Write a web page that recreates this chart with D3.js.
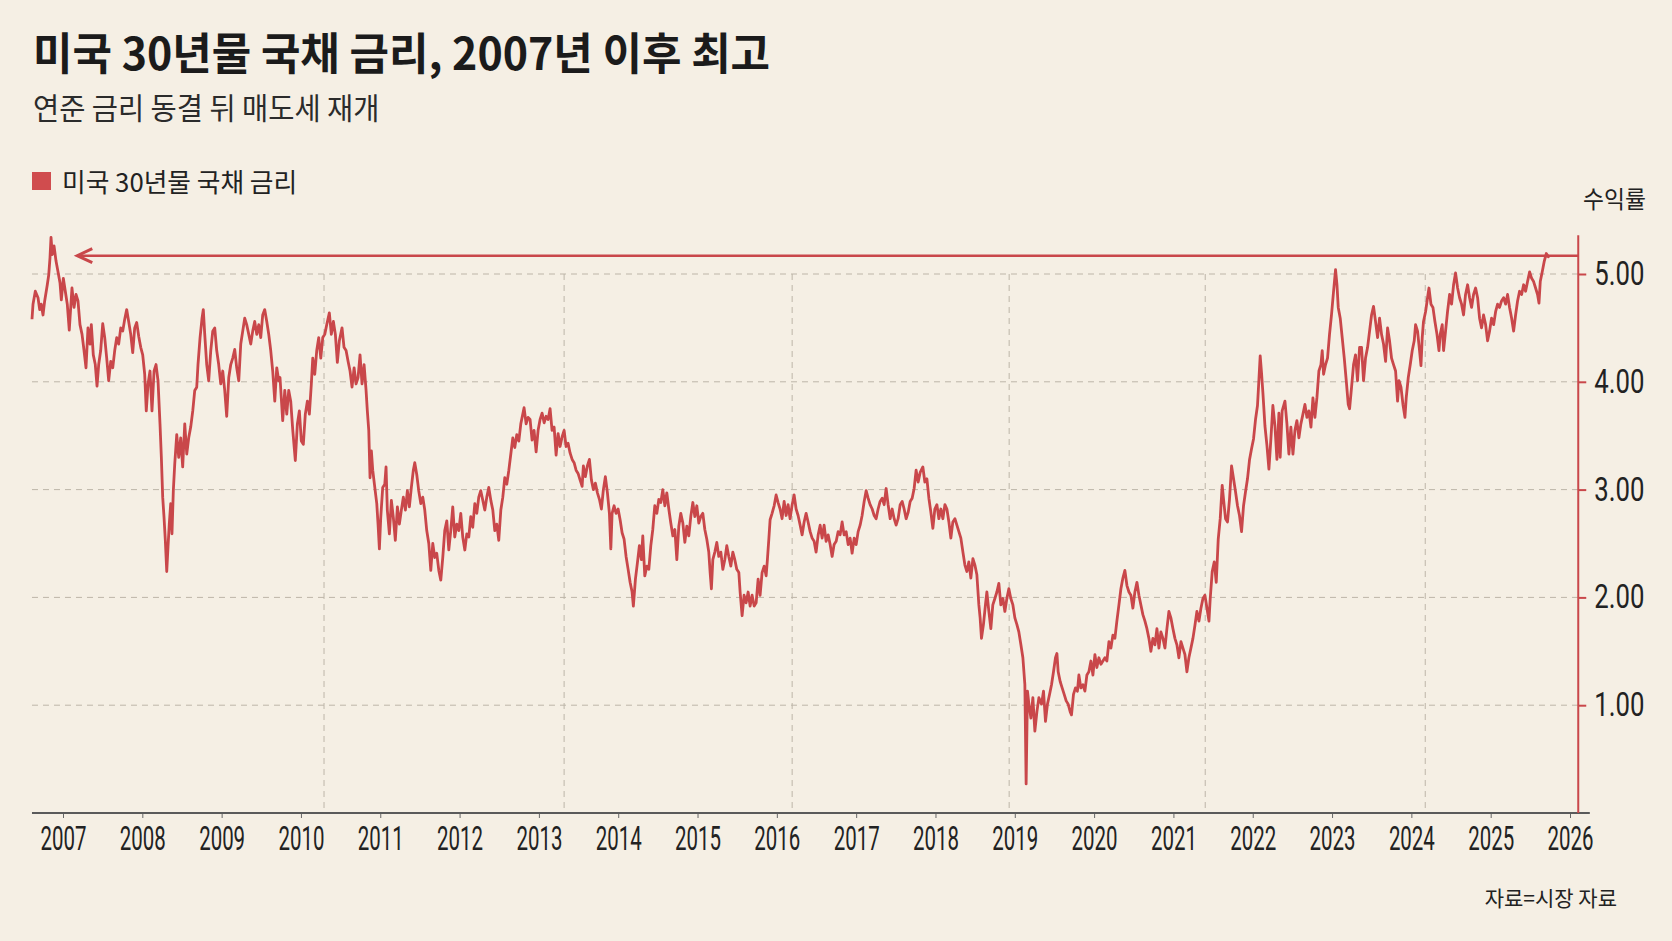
<!DOCTYPE html>
<html>
<head>
<meta charset="utf-8">
<script src="https://cdn.jsdelivr.net/npm/d3@7"></script>
<style>
  body { margin: 0; background: #f5efe4; }
  svg { display: block; }
</style>
</head>
<body>
<svg id="chart" width="1672" height="941"></svg>
<script>
// 미국 30년물 국채 금리 chart

// x positions are decimal years, values are yield in %
var yieldData = [
[2006.609,4.58],[2006.622,4.72],[2006.651,4.84],[2006.685,4.78],[2006.706,4.67],[2006.726,4.72],[2006.748,4.62],[2006.769,4.75],[2006.802,4.90],[2006.820,4.99],[2006.836,5.15],[2006.849,5.34],[2006.865,5.18],[2006.887,5.26],[2006.912,5.12],[2006.937,5.02],[2006.962,4.92],[2006.979,4.76],[2007.004,4.96],[2007.029,4.84],[2007.054,4.72],[2007.079,4.48],[2007.113,4.87],[2007.139,4.69],[2007.164,4.81],[2007.189,4.75],[2007.214,4.53],[2007.240,4.44],[2007.265,4.29],[2007.290,4.13],[2007.315,4.50],[2007.340,4.35],[2007.357,4.53],[2007.382,4.25],[2007.407,4.16],[2007.429,3.96],[2007.450,4.16],[2007.475,4.29],[2007.501,4.54],[2007.526,4.41],[2007.551,4.22],[2007.576,4.01],[2007.602,4.19],[2007.627,4.13],[2007.652,4.29],[2007.677,4.41],[2007.702,4.35],[2007.728,4.50],[2007.753,4.47],[2007.778,4.58],[2007.803,4.67],[2007.828,4.56],[2007.854,4.44],[2007.879,4.27],[2007.904,4.50],[2007.929,4.55],[2007.955,4.42],[2007.980,4.32],[2008.005,4.25],[2008.030,4.07],[2008.050,3.73],[2008.072,3.98],[2008.097,4.10],[2008.122,3.73],[2008.148,4.10],[2008.173,4.16],[2008.198,4.01],[2008.223,3.61],[2008.240,3.30],[2008.257,2.93],[2008.274,2.74],[2008.290,2.53],[2008.308,2.24],[2008.324,2.47],[2008.340,2.68],[2008.358,2.87],[2008.374,2.59],[2008.391,2.99],[2008.409,3.24],[2008.434,3.51],[2008.459,3.30],[2008.484,3.48],[2008.509,3.21],[2008.535,3.61],[2008.560,3.33],[2008.585,3.48],[2008.610,3.58],[2008.636,3.73],[2008.661,3.92],[2008.686,3.95],[2008.702,4.16],[2008.728,4.41],[2008.753,4.59],[2008.769,4.67],[2008.787,4.44],[2008.812,4.16],[2008.837,4.01],[2008.863,4.29],[2008.888,4.47],[2008.913,4.50],[2008.938,4.29],[2008.963,4.16],[2008.989,3.98],[2009.014,4.10],[2009.039,3.92],[2009.064,3.68],[2009.090,4.04],[2009.115,4.16],[2009.140,4.22],[2009.165,4.30],[2009.190,4.13],[2009.216,4.01],[2009.241,4.35],[2009.266,4.47],[2009.291,4.59],[2009.316,4.53],[2009.342,4.44],[2009.367,4.35],[2009.392,4.47],[2009.417,4.56],[2009.443,4.44],[2009.468,4.53],[2009.493,4.41],[2009.518,4.62],[2009.543,4.67],[2009.569,4.56],[2009.594,4.44],[2009.619,4.29],[2009.644,4.10],[2009.670,3.82],[2009.695,4.13],[2009.720,4.01],
[2009.736,4.04],[2009.770,3.64],[2009.796,3.92],[2009.821,3.70],[2009.846,3.92],[2009.871,3.82],[2009.897,3.55],[2009.929,3.27],[2009.955,3.61],[2009.980,3.73],[2010.005,3.45],[2010.030,3.42],[2010.055,3.70],[2010.081,3.82],[2010.106,3.70],[2010.131,3.98],[2010.149,4.22],[2010.174,4.07],[2010.199,4.29],[2010.224,4.41],[2010.250,4.22],[2010.275,4.41],[2010.300,4.44],[2010.325,4.53],[2010.358,4.64],[2010.383,4.44],[2010.409,4.56],[2010.434,4.44],[2010.459,4.18],[2010.484,4.38],[2010.518,4.50],[2010.543,4.32],[2010.569,4.29],[2010.594,4.19],[2010.619,4.10],[2010.644,3.95],[2010.670,4.13],[2010.695,3.98],[2010.720,4.04],[2010.745,4.25],[2010.770,3.98],[2010.796,4.16],[2010.821,3.92],[2010.837,3.73],[2010.855,3.55],[2010.871,3.11],[2010.888,3.36],[2010.905,3.18],[2010.931,3.02],[2010.956,2.87],[2010.972,2.68],[2010.989,2.45],[2011.006,2.74],[2011.031,3.02],[2011.057,3.05],[2011.073,3.21],[2011.089,2.81],[2011.115,2.59],[2011.140,2.90],[2011.165,2.74],[2011.190,2.53],[2011.216,2.84],[2011.241,2.68],[2011.266,2.81],[2011.291,2.93],[2011.317,2.81],[2011.342,2.99],[2011.367,2.84],[2011.392,3.02],[2011.417,3.18],[2011.435,3.25],[2011.460,3.14],[2011.485,2.99],[2011.511,2.87],[2011.536,2.93],[2011.561,2.81],[2011.586,2.62],[2011.612,2.50],[2011.637,2.25],[2011.662,2.50],[2011.687,2.37],[2011.712,2.41],[2011.738,2.25],[2011.763,2.16],[2011.788,2.37],[2011.813,2.62],[2011.839,2.71],[2011.864,2.44],[2011.889,2.62],[2011.914,2.84],[2011.939,2.56],[2011.965,2.68],[2011.990,2.62],[2012.015,2.78],[2012.040,2.56],[2012.066,2.44],[2012.091,2.59],[2012.116,2.56],[2012.141,2.75],[2012.166,2.65],[2012.192,2.87],[2012.217,2.78],[2012.242,2.93],[2012.267,2.99],[2012.293,2.90],[2012.318,2.81],[2012.343,2.93],[2012.368,3.02],[2012.394,2.90],[2012.419,2.81],[2012.444,2.62],[2012.469,2.68],[2012.494,2.53],[2012.520,2.81],[2012.545,2.93],[2012.570,3.11],[2012.595,3.05],[2012.621,3.18],[2012.646,3.33],[2012.671,3.48],[2012.696,3.39],[2012.721,3.51],[2012.747,3.45],[2012.772,3.61],[2012.797,3.70],[2012.813,3.76],[2012.839,3.61],[2012.864,3.67],
[2012.889,3.65],[2012.914,3.46],[2012.939,3.55],[2012.965,3.35],[2012.990,3.55],[2013.015,3.65],[2013.040,3.71],[2013.066,3.62],[2013.091,3.68],[2013.116,3.65],[2013.141,3.75],[2013.166,3.55],[2013.192,3.58],[2013.217,3.32],[2013.242,3.52],[2013.267,3.40],[2013.293,3.49],[2013.318,3.55],[2013.343,3.40],[2013.368,3.43],[2013.393,3.34],[2013.419,3.28],[2013.444,3.25],[2013.469,3.18],[2013.494,3.15],[2013.519,3.09],[2013.545,3.03],[2013.561,3.22],[2013.586,3.12],[2013.611,3.22],[2013.637,3.28],[2013.662,3.09],[2013.687,3.00],[2013.712,3.06],[2013.738,2.97],[2013.763,2.91],[2013.788,2.82],[2013.813,3.00],[2013.838,3.12],[2013.864,2.97],[2013.889,2.78],[2013.907,2.45],[2013.923,2.78],[2013.948,2.85],[2013.973,2.78],[2013.999,2.82],[2014.024,2.72],[2014.049,2.60],[2014.074,2.54],[2014.099,2.38],[2014.125,2.26],[2014.150,2.14],[2014.175,2.05],[2014.191,1.92],[2014.217,2.17],[2014.242,2.32],[2014.267,2.48],[2014.292,2.35],[2014.310,2.57],[2014.335,2.20],[2014.361,2.29],[2014.386,2.26],[2014.411,2.48],[2014.436,2.63],[2014.461,2.85],[2014.487,2.78],[2014.512,2.91],[2014.537,2.88],[2014.562,3.00],[2014.588,2.85],[2014.613,2.97],[2014.638,2.82],[2014.663,2.69],[2014.689,2.57],[2014.714,2.63],[2014.739,2.35],[2014.764,2.66],[2014.789,2.78],[2014.815,2.69],[2014.840,2.51],[2014.865,2.66],[2014.890,2.57],[2014.915,2.75],[2014.941,2.88],[2014.966,2.75],[2014.991,2.85],[2015.016,2.69],[2015.041,2.75],[2015.067,2.78],[2015.092,2.63],[2015.117,2.54],[2015.142,2.42],[2015.159,2.23],[2015.175,2.08],[2015.193,2.35],[2015.218,2.42],[2015.243,2.51],[2015.268,2.38],[2015.294,2.42],[2015.319,2.26],[2015.344,2.35],[2015.369,2.48],[2015.394,2.38],[2015.420,2.29],[2015.445,2.42],[2015.470,2.35],[2015.495,2.26],[2015.521,2.23],[2015.537,2.05],[2015.562,1.83],[2015.587,2.02],[2015.613,1.95],[2015.638,2.05],[2015.663,1.92],[2015.688,2.02],[2015.714,1.92],[2015.739,1.95],[2015.764,2.17],[2015.789,2.02],[2015.814,2.23],[2015.840,2.29],[2015.865,2.20],[2015.881,2.35],[2015.899,2.54],[2015.915,2.72],[2015.940,2.78],[2015.966,2.85],[2015.991,2.95],[2016.016,2.88],
[2016.041,2.82],[2016.066,2.73],[2016.092,2.89],[2016.117,2.76],[2016.142,2.86],[2016.167,2.73],[2016.193,2.86],[2016.218,2.95],[2016.243,2.82],[2016.268,2.76],[2016.294,2.67],[2016.319,2.58],[2016.344,2.70],[2016.369,2.78],[2016.394,2.70],[2016.420,2.61],[2016.445,2.55],[2016.470,2.52],[2016.495,2.42],[2016.521,2.58],[2016.546,2.67],[2016.571,2.55],[2016.596,2.67],[2016.621,2.52],[2016.647,2.58],[2016.672,2.49],[2016.697,2.38],[2016.722,2.49],[2016.748,2.52],[2016.773,2.61],[2016.798,2.58],[2016.823,2.70],[2016.848,2.58],[2016.874,2.61],[2016.899,2.49],[2016.924,2.55],[2016.949,2.41],[2016.975,2.55],[2017.000,2.49],[2017.025,2.61],[2017.050,2.67],[2017.075,2.76],[2017.101,2.89],[2017.126,2.99],[2017.151,2.92],[2017.176,2.86],[2017.202,2.82],[2017.227,2.76],[2017.252,2.73],[2017.277,2.82],[2017.302,2.89],[2017.328,2.92],[2017.353,2.86],[2017.378,3.01],[2017.403,2.86],[2017.429,2.73],[2017.454,2.82],[2017.479,2.73],[2017.504,2.67],[2017.529,2.73],[2017.555,2.86],[2017.580,2.89],[2017.605,2.82],[2017.630,2.73],[2017.656,2.79],[2017.681,2.89],[2017.706,2.92],[2017.731,3.01],[2017.756,3.18],[2017.782,3.07],[2017.807,3.16],[2017.841,3.21],[2017.866,3.07],[2017.892,3.10],[2017.917,2.92],[2017.942,2.79],[2017.967,2.64],[2017.992,2.82],[2018.018,2.86],[2018.043,2.73],[2018.068,2.82],[2018.093,2.73],[2018.119,2.86],[2018.144,2.82],[2018.169,2.70],[2018.194,2.55],[2018.219,2.70],[2018.245,2.73],[2018.270,2.67],[2018.295,2.61],[2018.320,2.55],[2018.346,2.42],[2018.371,2.30],[2018.396,2.24],[2018.421,2.33],[2018.446,2.18],[2018.472,2.36],[2018.497,2.30],[2018.522,2.21],[2018.547,1.93],[2018.563,1.81],[2018.580,1.62],[2018.605,1.75],[2018.630,1.93],[2018.648,2.05],[2018.673,1.87],[2018.698,1.71],[2018.723,1.93],[2018.749,1.99],[2018.774,2.05],[2018.799,2.13],[2018.824,1.93],[2018.850,1.99],[2018.875,1.87],[2018.900,1.99],[2018.925,2.08],[2018.950,1.99],[2018.976,1.93],[2019.001,1.81],[2019.026,1.75],[2019.051,1.68],[2019.077,1.56],[2019.102,1.44],[2019.127,1.19],[2019.143,0.27],[2019.160,1.13],[2019.178,1.01],[2019.203,0.88],[2019.228,1.07],[2019.253,0.76],[2019.279,0.94],[2019.304,1.07],
[2019.337,1.01],[2019.362,1.13],[2019.387,0.85],[2019.412,1.01],[2019.438,1.10],[2019.463,1.19],[2019.488,1.31],[2019.513,1.44],[2019.531,1.48],[2019.547,1.31],[2019.572,1.22],[2019.597,1.16],[2019.623,1.10],[2019.648,1.04],[2019.673,1.01],[2019.698,0.94],[2019.715,0.91],[2019.740,1.10],[2019.765,1.16],[2019.790,1.13],[2019.808,1.28],[2019.833,1.16],[2019.859,1.19],[2019.884,1.13],[2019.909,1.28],[2019.934,1.31],[2019.960,1.41],[2019.985,1.28],[2020.010,1.47],[2020.035,1.35],[2020.060,1.44],[2020.086,1.38],[2020.111,1.41],[2020.136,1.44],[2020.161,1.41],[2020.187,1.59],[2020.212,1.53],[2020.237,1.65],[2020.262,1.62],[2020.287,1.78],[2020.313,1.93],[2020.338,2.08],[2020.363,2.18],[2020.388,2.25],[2020.414,2.11],[2020.439,2.05],[2020.464,2.02],[2020.489,1.90],[2020.514,2.05],[2020.540,2.14],[2020.565,2.02],[2020.590,1.93],[2020.615,1.84],[2020.641,1.78],[2020.666,1.71],[2020.691,1.62],[2020.716,1.50],[2020.741,1.62],[2020.767,1.56],[2020.792,1.71],[2020.817,1.53],[2020.842,1.68],[2020.868,1.62],[2020.893,1.53],[2020.918,1.71],[2020.943,1.87],[2020.968,1.81],[2020.994,1.71],[2021.019,1.62],[2021.044,1.56],[2021.069,1.44],[2021.095,1.59],[2021.120,1.53],[2021.145,1.47],[2021.170,1.31],[2021.195,1.44],[2021.221,1.53],[2021.246,1.62],[2021.271,1.74],[2021.296,1.87],[2021.322,1.78],[2021.347,1.90],[2021.372,1.99],[2021.397,2.02],[2021.423,1.90],[2021.448,1.78],[2021.464,1.99],[2021.489,2.24],[2021.515,2.33],[2021.540,2.14],[2021.565,2.54],[2021.590,2.73],[2021.615,3.04],[2021.632,2.91],[2021.657,2.73],[2021.682,2.70],[2021.707,2.91],[2021.733,3.22],[2021.758,3.10],[2021.783,2.98],[2021.808,2.85],[2021.833,2.76],[2021.859,2.61],[2021.884,2.85],[2021.909,2.98],[2021.934,3.10],[2021.960,3.28],[2021.985,3.38],[2022.010,3.47],[2022.035,3.65],[2022.060,3.78],[2022.078,4.02],[2022.094,4.24],[2022.111,4.08],[2022.128,3.90],[2022.154,3.59],[2022.179,3.41],[2022.204,3.19],[2022.229,3.47],[2022.254,3.78],[2022.280,3.59],[2022.305,3.28],[2022.330,3.71],
[2022.346,3.30],[2022.371,3.73],[2022.406,3.82],[2022.431,3.61],[2022.456,3.33],[2022.481,3.58],[2022.507,3.33],[2022.532,3.55],[2022.557,3.64],[2022.582,3.48],[2022.607,3.61],[2022.633,3.70],[2022.658,3.79],[2022.683,3.67],[2022.708,3.73],[2022.734,3.58],[2022.759,3.85],[2022.784,3.67],[2022.809,3.85],[2022.834,4.10],[2022.860,4.16],[2022.876,4.29],[2022.893,4.07],[2022.918,4.16],[2022.943,4.22],[2022.968,4.44],[2022.993,4.62],[2023.019,4.84],[2023.044,5.04],[2023.062,4.90],[2023.078,4.69],[2023.103,4.59],[2023.128,4.41],[2023.154,4.22],[2023.179,4.01],[2023.204,3.79],[2023.221,3.75],[2023.246,3.95],[2023.271,4.16],[2023.296,4.25],[2023.321,4.01],[2023.347,4.32],[2023.372,4.32],[2023.397,4.01],[2023.422,4.22],[2023.448,4.32],[2023.473,4.47],[2023.498,4.62],[2023.523,4.70],[2023.548,4.56],[2023.574,4.41],[2023.599,4.59],[2023.624,4.44],[2023.649,4.35],[2023.675,4.19],[2023.700,4.50],[2023.725,4.38],[2023.750,4.22],[2023.775,4.16],[2023.801,4.10],[2023.826,3.82],[2023.844,4.01],[2023.869,3.95],[2023.894,3.79],[2023.919,3.67],[2023.935,3.85],[2023.961,4.04],[2023.986,4.16],[2024.011,4.29],[2024.036,4.38],[2024.053,4.53],[2024.078,4.47],[2024.103,4.29],[2024.121,4.15],[2024.137,4.41],[2024.153,4.56],[2024.179,4.65],[2024.204,4.78],[2024.222,4.87],[2024.247,4.72],[2024.272,4.69],[2024.297,4.56],[2024.323,4.44],[2024.348,4.29],[2024.364,4.44],[2024.389,4.53],[2024.406,4.29],[2024.431,4.47],[2024.456,4.65],[2024.482,4.81],[2024.507,4.72],[2024.532,4.90],[2024.557,5.01],[2024.583,4.87],[2024.608,4.78],[2024.633,4.72],[2024.658,4.62],[2024.683,4.81],[2024.709,4.90],[2024.734,4.78],[2024.759,4.69],[2024.784,4.81],[2024.810,4.87],[2024.835,4.78],[2024.860,4.59],[2024.885,4.50],[2024.910,4.62],[2024.936,4.53],[2024.961,4.38],[2024.986,4.47],[2025.011,4.59],[2025.037,4.53],[2025.062,4.65],[2025.087,4.72],[2025.112,4.69],[2025.137,4.75],[2025.163,4.78],[2025.188,4.72],[2025.213,4.81],[2025.238,4.69],[2025.264,4.59],[2025.289,4.47],[2025.314,4.62],[2025.339,4.75],[2025.364,4.84],[2025.390,4.81],[2025.415,4.90],[2025.440,4.84],[2025.465,4.93],[2025.491,5.02],[2025.516,4.96],[2025.541,4.93],[2025.566,4.87],[2025.591,4.81],[2025.609,4.73],[2025.625,4.93],[2025.650,5.02],[2025.676,5.12],[2025.701,5.19],[2025.726,5.16],[2025.743,5.17]
];

var yearTicks = [2007,2008,2009,2010,2011,2012,2013,2014,2015,2016,2017,2018,2019,2020,2021,2022,2023,2024,2025,2026];
var yieldTicks = [1, 2, 3, 4, 5];
// the vertical dashed lines in the original do not sit on year ticks
var gridYears = [2010.291, 2013.318, 2016.193, 2018.929, 2021.401, 2024.175];
var latestLevel = 5.17;       // arrow level (latest yield)
var arrowFrom = 2007.18;      // arrow points back to the 2007 peak

var titleText = "미국 30년물 국채 금리, 2007년 이후 최고";
var subText = "연준 금리 동결 뒤 매도세 재개";
var legendText = "미국 30년물 국채 금리";
var unitText = "수익률";
var sourceText = "자료=시장 자료";

var red = "#c9474a";
var kr = "'Noto Sans CJK KR', 'Noto Sans', sans-serif";
var numFont = "Roboto, 'Liberation Sans', sans-serif";

var svg = d3.select("#chart");
svg.append("rect").attr("width", 1672).attr("height", 941).attr("fill", "#f5efe4");

var x = d3.scaleLinear().domain([2007, 2026]).range([63, 1570]);
var y = d3.scaleLinear().domain([0, 5]).range([813, 274]);

var xLeft = 2006.609, xRight = 2026.104;

// condensed looking text
function label(tx, ty, txt, size, weight, sx, color, family, anchor) {
  return svg.append("text")
    .attr("transform", "translate(" + tx + "," + ty + ") scale(" + sx + ",1)")
    .attr("font-family", family || kr)
    .attr("font-size", size)
    .attr("font-weight", weight)
    .attr("fill", color)
    .attr("text-anchor", anchor || "start")
    .text(txt);
}

label(33, 70, titleText, 44, 700, 0.975, "#1b1b1b");
label(33, 119, subText, 30, 400, 0.95, "#2b2b2b");

svg.append("rect").attr("x", 32).attr("y", 172).attr("width", 19).attr("height", 18).attr("fill", "#d04c4e");
label(62, 192, legendText, 26, 400, 0.99, "#222");

label(1583, 208, unitText, 24, 400, 0.95, "#222");
label(1617, 906, sourceText, 21, 400, 1, "#222", kr, "end");

// grid
var grid = svg.append("g").attr("stroke", "#bdb5a8").attr("stroke-width", 1).attr("stroke-dasharray", "6,5");
grid.selectAll(".hg").data(yieldTicks).enter().append("line")
  .attr("x1", x(xLeft)).attr("x2", x(xRight))
  .attr("y1", function(d) { return y(d); }).attr("y2", function(d) { return y(d); });
grid.selectAll(".vg").data(gridYears).enter().append("line")
  .attr("x1", function(d) { return x(d); }).attr("x2", function(d) { return x(d); })
  .attr("y1", y(5)).attr("y2", y(0));

// x axis
var xAxis = d3.axisBottom(x).tickValues(yearTicks).tickFormat(d3.format("d")).tickSize(5).tickPadding(9);
var gx = svg.append("g").attr("transform", "translate(0," + y(0) + ")").call(xAxis);
gx.select(".domain").remove();
gx.selectAll(".tick line").attr("stroke", "#666");
gx.selectAll(".tick text")
  .attr("font-family", numFont).attr("font-size", 33).attr("fill", "#222")
  .attr("transform", "scale(0.62,1)");
svg.append("line").attr("x1", x(xLeft)).attr("x2", x(2026.25))
  .attr("y1", y(0)).attr("y2", y(0)).attr("stroke", "#5a5a5a").attr("stroke-width", 2);

// right axis in red
var yAxis = d3.axisRight(y).tickValues(yieldTicks).tickFormat(d3.format(".2f")).tickSize(8).tickPadding(8);
var gy = svg.append("g").attr("transform", "translate(" + x(xRight) + ",0)").call(yAxis);
gy.select(".domain").remove();
gy.selectAll(".tick line").attr("stroke", red).attr("stroke-width", 2);
gy.selectAll(".tick text")
  .attr("font-family", numFont).attr("font-size", 33).attr("fill", "#222")
  .attr("x", 0).attr("transform", "translate(16,0) scale(0.78,1)");
svg.append("line").attr("x1", x(xRight)).attr("x2", x(xRight))
  .attr("y1", y(5.36)).attr("y2", y(0)).attr("stroke", red).attr("stroke-width", 2);

// arrow back to 2007
svg.append("line").attr("x1", x(arrowFrom)).attr("x2", x(xRight))
  .attr("y1", y(latestLevel)).attr("y2", y(latestLevel))
  .attr("stroke", red).attr("stroke-width", 2.5);
var ax = x(arrowFrom), ay = y(latestLevel);
svg.append("path")
  .attr("d", "M" + (ax + 15) + "," + (ay - 7) + "L" + ax + "," + ay + "L" + (ax + 15) + "," + (ay + 7))
  .attr("fill", "none").attr("stroke", red).attr("stroke-width", 3);

// yield line
var line = d3.line().x(function(d) { return x(d[0]); }).y(function(d) { return y(d[1]); });
svg.append("path").datum(yieldData)
  .attr("d", line)
  .attr("fill", "none")
  .attr("stroke", red)
  .attr("stroke-width", 2.8)
  .attr("stroke-linejoin", "round");
</script>
</body>
</html>
